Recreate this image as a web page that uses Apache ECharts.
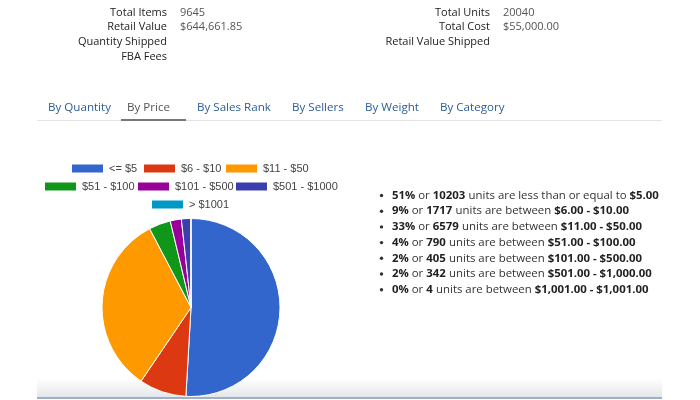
<!DOCTYPE html>
<html><head><meta charset="utf-8">
<script src="https://cdn.jsdelivr.net/npm/echarts@6/dist/echarts.min.js"></script>
<style>html,body{margin:0;padding:0;background:#fff}#c{width:700px;height:400px}</style>
</head><body><div id="c"></div>
<script>
// ---- data ----
var categories = ['<= $5', '$6 - $10', '$11 - $50', '$51 - $100', '$101 - $500', '$501 - $1000', '> $1001'];
var units = [10203, 1717, 6579, 790, 405, 342, 4];
var percents = [51, 9, 33, 4, 2, 2, 0];
var rangeLow = [null, 6, 11, 51, 101, 501, 1001];
var rangeHigh = [5, 10, 50, 100, 500, 1000, 1001];
var colors = ['#3366cc', '#dc3912', '#ff9900', '#109618', '#990099', '#3b3eac', '#0099c6'];
var summaryLeftLabels = ['Total Items', 'Retail Value', 'Quantity Shipped', 'FBA Fees'];
var summaryLeftValues = ['9645', '$644,661.85', '', ''];
var summaryRightLabels = ['Total Units', 'Total Cost', 'Retail Value Shipped'];
var summaryRightValues = ['20040', '$55,000.00', ''];
var tabs = ['By Quantity', 'By Price', 'By Sales Rank', 'By Sellers', 'By Weight', 'By Category'];
var activeTab = 1;

// ---- layout ----
var FONT = '"Open Sans", sans-serif';
var tabX = [48, 127, 197, 292, 365, 440];
var legendPos = [[70,167.5],[142,167.5],[224,167.5],[43,185.5],[136,185.5],[234,185.5],[150,203.5]];
var rowY = [12.5, 27, 42, 57];
var listY0 = 195.5, listDy = 15.7;

function money(v){
  var s = v.toFixed(2).split('.');
  s[0] = s[0].replace(/\B(?=(\d{3})+(?!\d))/g, ',');
  return '$' + s[0] + '.' + s[1];
}

var graphics = [];
summaryLeftLabels.forEach(function(t,i){
  graphics.push({type:'text', x:167, y:rowY[i], style:{text:t, font:'11px '+FONT, fill:'#222', align:'right', verticalAlign:'middle'}});
  if (summaryLeftValues[i]) graphics.push({type:'text', x:180, y:rowY[i], style:{text:summaryLeftValues[i], font:'11px '+FONT, fill:'#555', align:'left', verticalAlign:'middle'}});
});
summaryRightLabels.forEach(function(t,i){
  graphics.push({type:'text', x:490, y:rowY[i], style:{text:t, font:'11px '+FONT, fill:'#222', align:'right', verticalAlign:'middle'}});
  if (summaryRightValues[i]) graphics.push({type:'text', x:503, y:rowY[i], style:{text:summaryRightValues[i], font:'11px '+FONT, fill:'#555', align:'left', verticalAlign:'middle'}});
});
tabs.forEach(function(t,i){
  graphics.push({type:'text', x:tabX[i], y:107.5, style:{text:t, font:'11.6px '+FONT, fill: i===activeTab ? '#555' : '#2b5d9b', align:'left', verticalAlign:'middle'}});
});
graphics.push({type:'rect', shape:{x:37, y:120, width:625, height:1}, style:{fill:'#e4e4e4'}});
graphics.push({type:'rect', shape:{x:121, y:119, width:65, height:2}, style:{fill:'#777'}});
graphics.push({type:'rect', z:-1, shape:{x:37, y:378, width:625, height:19}, style:{fill:{type:'linear',x:0,y:0,x2:0,y2:1,colorStops:[{offset:0,color:'rgba(232,233,236,0)'},{offset:1,color:'#e4e6ea'}]}}});
graphics.push({type:'rect', shape:{x:37, y:397, width:625, height:2}, style:{fill:'#9fafc6'}});

// bullet list built from the data arrays
categories.forEach(function(c,i){
  var rng = rangeLow[i] === null
    ? '{n|units are less than or equal to }{b|' + money(rangeHigh[i]) + '}'
    : '{n|units are between }{b|' + money(rangeLow[i]) + ' - ' + money(rangeHigh[i]) + '}';
  var y = listY0 + i*listDy;
  graphics.push({type:'circle', shape:{cx:381.5, cy:y, r:1.7}, style:{fill:'#333'}});
  graphics.push({type:'text', x:392, y:y, style:{
    text:'{b|' + percents[i] + '%}{n| or }{b|' + units[i] + '} ' + rng,
    verticalAlign:'middle', align:'left',
    rich:{b:{font:'bold 11.4px '+FONT, fill:'#222'}, n:{font:'11.4px '+FONT, fill:'#333'}}
  }});
});

var legends = categories.map(function(c,i){
  return {data:[c], left:legendPos[i][0]-5, top:legendPos[i][1]-5-5, itemWidth:33, itemHeight:10, icon:'rect',
    selectedMode:false, textStyle:{fontFamily:'"Liberation Sans", Arial', fontSize:11, color:'#444'}};
});

var chart = echarts.init(document.getElementById('c'), null, {renderer:'canvas'});
chart.setOption({
  backgroundColor:'#fff',
  animation:false,
  color: colors,
  legend: legends,
  graphic: graphics,
  series:[{
    type:'pie', center:[191, 307.5], radius:89, startAngle:90, clockwise:true,
    label:{show:false}, labelLine:{show:false},
    itemStyle:{borderColor:'#fff', borderWidth:1},
    emphasis:{disabled:true},
    data: categories.map(function(c,i){ return {name:c, value:units[i]}; })
  }]
});
</script></body></html>
